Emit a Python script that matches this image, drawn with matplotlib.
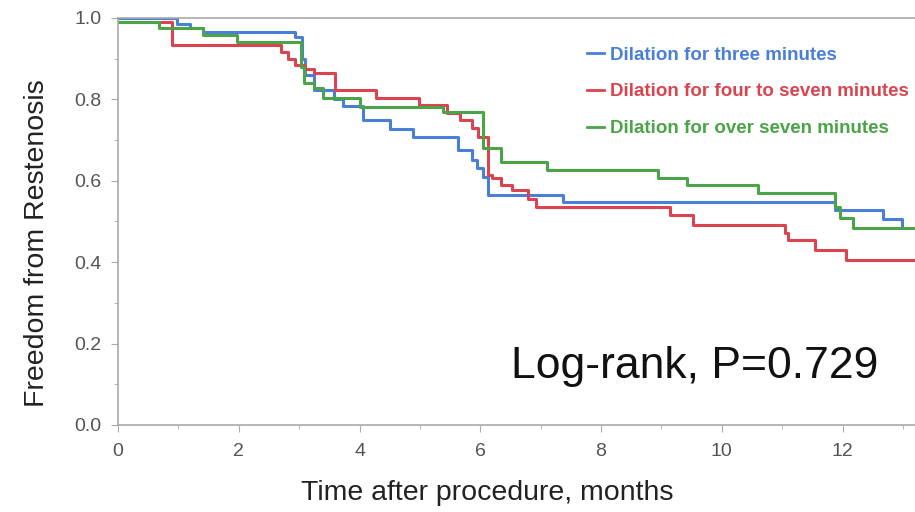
import matplotlib
matplotlib.use("Agg")
import matplotlib.pyplot as plt
from matplotlib.ticker import MultipleLocator, FormatStrFormatter

plt.rcParams['font.family'] = ['Liberation Sans', 'DejaVu Sans']

# Kaplan-Meier step points (time in months, survival after the step)
t_three = [0, 0.97, 1.2, 1.4, 2.93, 3.05, 3.1, 3.24, 3.57, 3.72, 4.05, 4.5, 4.88,
           5.63, 5.86, 5.95, 6.05, 6.12, 7.37, 11.87, 12.67, 12.98, 13.2]
s_three = [1.0, 0.985, 0.975, 0.966, 0.953, 0.90, 0.86, 0.823, 0.80, 0.784, 0.749, 0.727, 0.708,
           0.676, 0.651, 0.631, 0.61, 0.565, 0.548, 0.528, 0.506, 0.484, 0.484]

t_four = [0, 0.9, 2.7, 2.82, 2.93, 3.1, 3.24, 3.6, 4.27, 4.98, 5.45, 5.66, 5.86, 5.96,
          6.13, 6.2, 6.35, 6.52, 6.79, 6.92, 9.14, 9.52, 11.05, 11.1, 11.55, 12.05, 13.2]
s_four = [0.99, 0.934, 0.917, 0.90, 0.885, 0.875, 0.865, 0.823, 0.803, 0.786, 0.767, 0.75, 0.73, 0.708,
          0.614, 0.607, 0.59, 0.577, 0.555, 0.536, 0.516, 0.491, 0.472, 0.455, 0.43, 0.405, 0.405]

t_over = [0, 0.68, 1.4, 1.97, 3.03, 3.08, 3.24, 3.4, 4.0, 5.38, 6.05, 6.35, 7.1, 8.95,
          9.43, 10.6, 11.87, 11.95, 12.17, 13.2]
s_over = [0.99, 0.975, 0.958, 0.94, 0.88, 0.84, 0.828, 0.803, 0.781, 0.769, 0.68, 0.645, 0.627, 0.607,
          0.59, 0.57, 0.535, 0.509, 0.484, 0.484]

labels = ["Dilation for three minutes", "Dilation for four to seven minutes",
          "Dilation for over seven minutes"]
colors = ["#4a7fd6", "#d94450", "#4ba447"]

fig = plt.figure(figsize=(9.15, 5.12), dpi=100)
ax = fig.add_axes([0.129, 0.170, 0.871, 0.795])

for t, s, lab, c in zip([t_three, t_four, t_over], [s_three, s_four, s_over], labels, colors):
    ax.plot(t, s, drawstyle='steps-post', color=c, lw=2.2, label=lab)

ax.set_xlim(0, 13.2)
ax.set_ylim(0, 1.0)
ax.xaxis.set_major_locator(MultipleLocator(2))
ax.xaxis.set_minor_locator(MultipleLocator(1))
ax.yaxis.set_major_locator(MultipleLocator(0.2))
ax.yaxis.set_minor_locator(MultipleLocator(0.1))
ax.yaxis.set_major_formatter(FormatStrFormatter('%.1f'))

for side in ['top', 'left', 'bottom']:
    ax.spines[side].set_color('#aaaaaa')
    ax.spines[side].set_linewidth(1.2)
ax.spines['right'].set_visible(False)
ax.tick_params(which='both', direction='out', color='#aaaaaa', labelcolor='#555555',
               labelsize=14)
ax.tick_params(which='major', length=5)
ax.tick_params(which='minor', length=3)
ax.tick_params(axis='x', pad=8)
ax.tick_params(axis='y', pad=7)

ax.set_xlabel("Time after procedure, months", fontsize=20.5, color='#222222')
ax.set_ylabel("Freedom from Restenosis", fontsize=20.5, color='#222222')
ax.xaxis.set_label_coords(0.463, -0.135)
ax.yaxis.set_label_coords(-0.085, 0.447)

ax.text(0.9536, 0.1155, "Log-rank, P=0.729", transform=ax.transAxes, fontsize=32,
        ha='right', va='baseline', color='#111111')

leg = ax.legend(loc='upper left', bbox_to_anchor=(0.588, 0.93), frameon=False,
                borderaxespad=0, borderpad=0,
                handlelength=0.95, handletextpad=0.3, labelspacing=1.05,
                prop={'weight': 'bold', 'size': 13.5}, labelcolor='linecolor')
for h in leg.get_lines():
    h.set_linewidth(2)

fig.savefig("out.png", dpi=100)
